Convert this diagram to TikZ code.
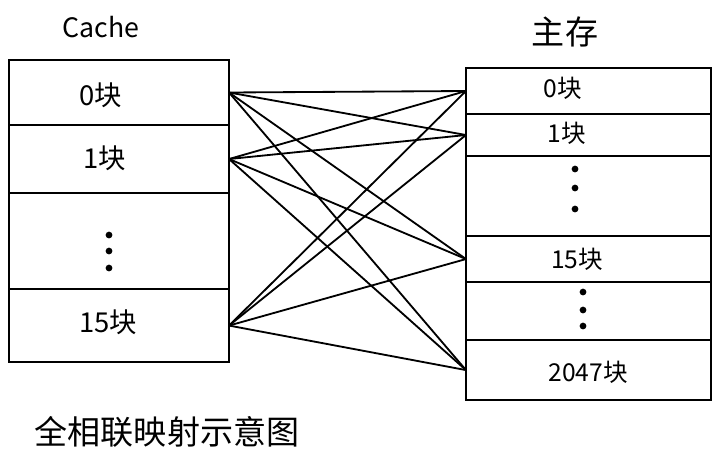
\documentclass[tikz,border=0pt]{standalone}
\usepackage{fontspec}
\newfontfamily\cjk{Noto Sans CJK SC}
\usetikzlibrary{positioning}

\begin{document}
\begin{tikzpicture}[
    x=0.025cm, y=-0.025cm,
    cblk/.style={draw, line width=1.3pt, outer sep=0pt, minimum width=5.5cm},
    mblk/.style={draw, line width=1.3pt, outer sep=0pt, minimum width=6.125cm},
    clabel/.style={font=\cjk\fontsize{19.5}{20}\selectfont},
    mlabel/.style={font=\cjk\fontsize{17.5}{18}\selectfont},
    heading/.style={font=\cjk\fontsize{23.5}{24}\selectfont},
    link/.style={line width=1.3pt}
]
    \useasboundingbox (0,0) rectangle (720,462);

    % Cache
    \node[font=\cjk\fontsize{19}{20}\selectfont] (cachename) at (101,27) {Cache};
    \node[cblk, minimum height=1.625cm] (c0) at (119,92.5) {};
    \node[cblk, minimum height=1.7cm, below=0pt of c0] (c1) {};
    \node[cblk, minimum height=2.4cm, below=0pt of c1] (cgap) {};
    \node[cblk, minimum height=1.825cm, below=0pt of cgap] (c15) {};
    \node[clabel] (c0text) at (101,95) {0块};
    \node[clabel] (c1text) at (105,158) {1块};
    \node[clabel] (c15text) at (108,322) {15块};
    \foreach \y in {235,251,268}
        \fill (109,\y) circle (2.4pt);

    % Main memory
    \node[heading] (memname) at (565,32) {主存};
    \node[mblk, minimum height=1.15cm] (m0) at (588.5,91) {};
    \node[mblk, minimum height=1.05cm, below=0pt of m0] (m1) {};
    \node[mblk, minimum height=2cm, below=0pt of m1] (mgapa) {};
    \node[mblk, minimum height=1.15cm, below=0pt of mgapa] (m15) {};
    \node[mblk, minimum height=1.45cm, below=0pt of m15] (mgapb) {};
    \node[mblk, minimum height=1.5cm, below=0pt of mgapb] (m2047) {};
    \node[mlabel] (m0text) at (563,88) {0块};
    \node[mlabel] (m1text) at (567,133) {1块};
    \node[mlabel] (m15text) at (577,259) {15块};
    \node[mlabel] (m2047text) at (588,372) {2047块};
    \foreach \y in {169,188,209}
        \fill (575,\y) circle (2.4pt);
    \foreach \y in {292,310,326}
        \fill (583,\y) circle (2.4pt);

    % Connections
    \foreach \c in {c0,c1,c15}
        \foreach \m in {m0,m1,m15,m2047}
            \draw[link] (\c.east) -- (\m.west);

    % Caption
    \node[heading] (caption) at (167,432) {全相联映射示意图};

\end{tikzpicture}
\end{document}
